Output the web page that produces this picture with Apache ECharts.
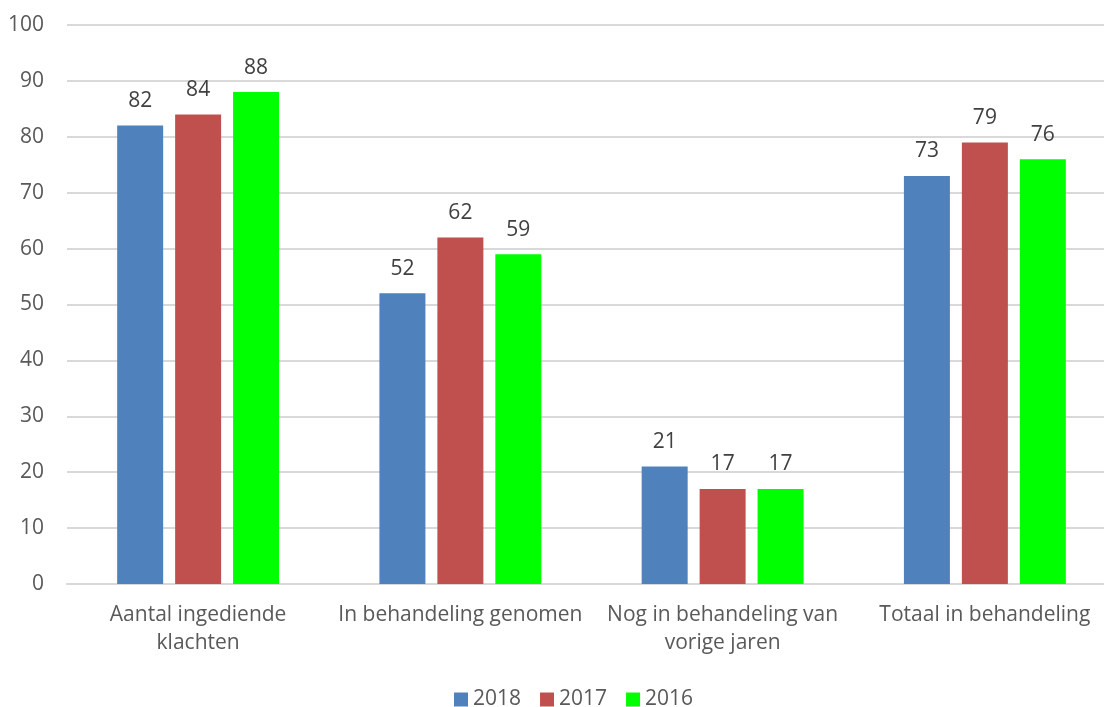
<!DOCTYPE html>
<html>
<head>
<meta charset="utf-8">
<script src="https://cdn.jsdelivr.net/npm/echarts@6/dist/echarts.min.js"></script>
<style>
  html, body { margin: 0; padding: 0; background: #fff; }
  #chart { width: 1104px; height: 707px; }
</style>
</head>
<body>
<div id="chart"></div>
<script>
const categories = ['Aantal ingediende\nklachten', 'In behandeling genomen', 'Nog in behandeling van\nvorige jaren', 'Totaal in behandeling'];
const years = ['2018', '2017', '2016'];
const values2018 = [82, 52, 21, 73];
const values2017 = [84, 62, 17, 79];
const values2016 = [88, 59, 17, 76];
const colors = ['#4f81bd', '#c0504d', '#00ff00'];
const yTicks = { min: 0, max: 100, interval: 10 };

const font = '"Open Sans", "Liberation Sans", sans-serif';
const chart = echarts.init(document.getElementById('chart'));

const series = [values2018, values2017, values2016].map((vals, i) => ({
  name: years[i],
  type: 'bar',
  data: vals,
  barWidth: 46,
  barGap: '26%',
  itemStyle: { color: colors[i] },
  label: {
    show: true,
    position: 'top',
    distance: 14,
    color: '#404040',
    fontSize: 21,
    fontFamily: font
  }
}));

chart.setOption({
  animation: false,
  color: colors,
  // plot area runs a bit past the right edge, as in the cropped original
  grid: { left: 67, top: 25, bottom: 123, width: 1049, outerBoundsMode: 'none' },
  legend: {
    data: years,
    top: 684,
    left: 449,
    itemWidth: 14,
    itemHeight: 14,
    itemGap: 19,
    icon: 'rect',
    textStyle: { color: '#595959', fontSize: 21, fontFamily: font }
  },
  xAxis: {
    type: 'category',
    data: categories,
    axisLine: { lineStyle: { color: '#d9d9d9', width: 2 } },
    axisTick: { show: false },
    axisLabel: {
      color: '#595959',
      fontSize: 21,
      fontFamily: font,
      lineHeight: 28,
      margin: 17,
      interval: 0
    }
  },
  yAxis: {
    type: 'value',
    min: yTicks.min,
    max: yTicks.max,
    interval: yTicks.interval,
    axisLine: { show: false },
    axisTick: { show: false },
    splitLine: { lineStyle: { color: '#d9d9d9', width: 2 } },
    axisLabel: { color: '#595959', fontSize: 21, fontFamily: font, margin: 23 }
  },
  series
});
</script>
</body>
</html>
